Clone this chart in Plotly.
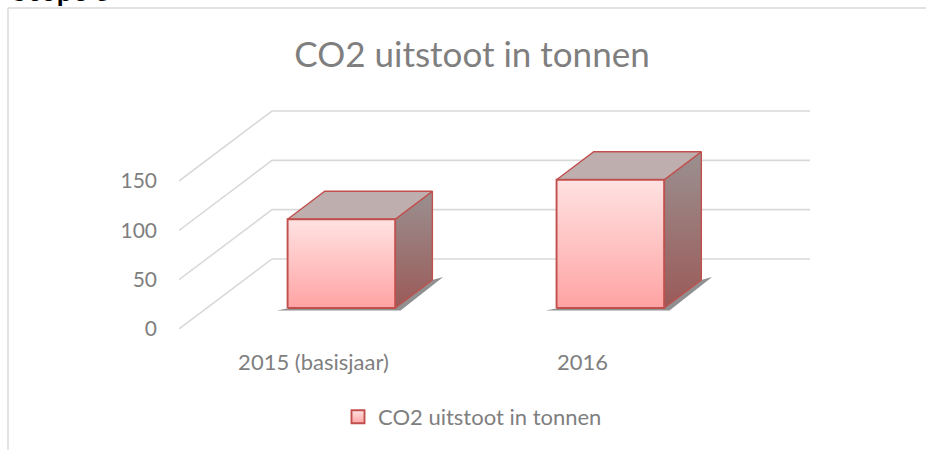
import plotly.graph_objects as go

categories = ["2015 (basisjaar)", "2016"]
co2_tonnes = [90, 130]
y_ticks = [0, 50, 100, 150]
series_name = "CO2 uitstoot in tonnen"
title_text = "CO2 uitstoot in tonnen"
heading_text = "Scope 3"

# pseudo-3D projection, in axis units
DX = 0.3457     # x shift of full chart depth
DY = 71.0       # y shift of full chart depth
D0, D1 = 0.30, 0.70   # bar start/end along the depth
HALF = 0.20     # half a bar width
X_L, X_R_BACK = -0.5, 1.846

GRID = "#d9d9d9"
EDGE = "#c0504d"
GREY = "#7f7f7f"
FONT = "Lato, Carlito, sans-serif"

fig = go.Figure()

# gridlines on side wall and back wall
for i, t in enumerate(y_ticks):
    fig.add_trace(go.Scatter(
        x=[X_L, X_L + DX, X_R_BACK], y=[t, t + DY, t + DY], mode="lines",
        line=dict(color=GRID, width=1.6), showlegend=False, hoverinfo="skip", cliponaxis=False))


def poly(xs, ys, **kw):
    fig.add_trace(go.Scatter(
        x=xs + xs[:1], y=ys + ys[:1], mode="lines", fill="toself", showlegend=False,
        hoverinfo="skip", cliponaxis=False, **kw))


for i, v in enumerate(co2_tonnes):
    x0, x1 = i - HALF + D0 * DX, i + HALF + D0 * DX
    b0 = D0 * DY
    ddx, ddy = (D1 - D0) * DX, (D1 - D0) * DY
    # shadow
    poly([x0 - 0.04, x1 + 0.02, x1 + ddx + 0.04, x1 + ddx], [b0 - 2.5, b0 - 2.5, b0 + ddy + 3, b0 + ddy],
         line=dict(width=0), fillcolor="rgba(70,70,70,0.6)")
    # side face
    poly([x1, x1 + ddx, x1 + ddx, x1], [b0, b0 + ddy, b0 + v + ddy, b0 + v],
         line=dict(color=EDGE, width=1.4),
         fillgradient=dict(type="vertical", colorscale=[[0, "#9a5a58"], [1, "#9b9090"]]))
    # top face
    poly([x0, x1, x1 + ddx, x0 + ddx], [b0 + v, b0 + v, b0 + v + ddy, b0 + v + ddy],
         line=dict(color=EDGE, width=1.4), fillcolor="#bfaeae")
    # front face
    poly([x0, x1, x1, x0], [b0, b0, b0 + v, b0 + v],
         line=dict(color=EDGE, width=1.9),
         fillgradient=dict(type="vertical", colorscale=[[0, "#ffa3a3"], [1, "#ffe2e2"]]))

# legend entry
fig.add_trace(go.Scatter(
    x=[None], y=[None], mode="markers", name=series_name, showlegend=True,
    marker=dict(symbol="square", size=13, color="#ffe2e2",
                gradient=dict(type="vertical", color="#ffa3a3"),
                line=dict(color=EDGE, width=1.9))))

W, H = 926, 450
L, R, T, B = 179, 810, 100, 329


def px_x(p):
    return (p - L) / (R - L)


def px_y(p):
    return (B - p) / (B - T)


shapes = [
    dict(type="line", xref="paper", yref="paper", x0=px_x(8), x1=px_x(8), y0=px_y(8), y1=px_y(450),
         line=dict(color=GRID, width=1.4)),
    dict(type="line", xref="paper", yref="paper", x0=px_x(8), x1=px_x(926), y0=px_y(8), y1=px_y(8),
         line=dict(color=GRID, width=1.4)),
]

fig.update_layout(
    width=W, height=H, autosize=False,
    margin=dict(l=L, r=W - R, t=T, b=H - B),
    paper_bgcolor="white", plot_bgcolor="white",
    font=dict(family=FONT, color=GREY, size=21),
    title=dict(text=title_text, x=472 / W, xanchor="center", y=1 - 55 / H, yanchor="middle",
               font=dict(size=35, color=GREY, family=FONT)),
    xaxis=dict(range=[X_L, X_R_BACK], tickmode="array", tickvals=[0, 1], ticktext=categories,
               showgrid=False, zeroline=False, showline=False, ticks="", ticklabelstandoff=18,
               tickfont=dict(size=22, color=GREY)),
    yaxis=dict(range=[0, 232.2], tickmode="array", tickvals=y_ticks, showgrid=False,
               zeroline=False, showline=False, ticks="", ticklabelstandoff=21,
               tickfont=dict(size=21, color=GREY)),
    showlegend=True,
    legend=dict(x=px_x(338), xanchor="left", y=px_y(417), yanchor="middle",
                orientation="h", font=dict(size=22, color=GREY), bgcolor="rgba(0,0,0,0)"),
    shapes=shapes,
    annotations=[dict(text="<b>" + heading_text + "</b>", xref="paper", yref="paper", x=px_x(10),
                      y=px_y(-9.5), xanchor="left", yanchor="middle", showarrow=False,
                      font=dict(size=28, color="black", family=FONT))],
)

fig.write_html("out.html", config=dict(displayModeBar=False),
               post_script="document.body.style.margin='0';document.body.style.overflow='hidden';")
